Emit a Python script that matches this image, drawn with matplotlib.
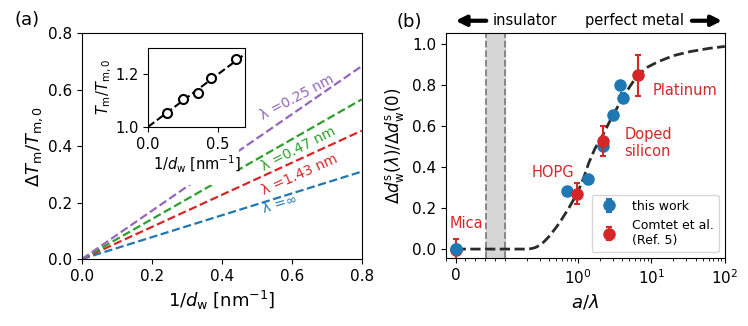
import numpy as np
import matplotlib.pyplot as plt
from matplotlib.patches import Rectangle
from matplotlib.ticker import NullFormatter

# ---------------- data: panel (a) ----------------
lam_labels = [r"λ =∞", r"λ =1.43 nm", r"λ =0.47 nm", r"λ =0.25 nm"]
lam_colors = ["tab:blue", "tab:red", "tab:green", "tab:purple"]
inv_d_line = [0.0, 0.8]
dT_end = [0.31, 0.455, 0.566, 0.684]   # dT/T at 1/d = 0.8
lab_x = [0.567, 0.622, 0.62, 0.615]
lab_y = [0.196, 0.298, 0.392, 0.575]
lab_rot = [16, 24, 27, 28]

# inset
inset_x = [0.136, 0.250, 0.360, 0.455, 0.631]
inset_y = [1.054, 1.104, 1.127, 1.184, 1.259]
inset_fit_x = [0.0, 0.7]
inset_fit_y = [1.0, 1.278]

# ---------------- data: panel (b) ----------------
blue_x = [0.0, 0.70, 1.38, 2.2, 3.0, 3.7, 4.1]
blue_y = [0.0, 0.285, 0.34, 0.505, 0.655, 0.80, 0.74]
blue_err = [0.02] * 7
red_x = [0.0, 0.98, 2.2, 6.5]
red_y = [-0.005, 0.27, 0.528, 0.85]
red_err = [0.055, 0.052, 0.075, 0.10]
red_names = ["Mica", "HOPG", "Doped\nsilicon", "Platinum"]

curve_x = [0, 0.1, 0.2, 0.23, 0.26, 0.3, 0.35, 0.4, 0.45, 0.52, 0.6, 0.75,
           0.9, 1.0, 1.2, 1.4, 1.7, 2.2, 3.0, 4.1, 5.0, 6.5, 9, 12.3, 20,
           34, 60, 100]
curve_y = [0, 0, 0, 0.002, 0.007, 0.018, 0.038, 0.06, 0.083, 0.112, 0.145,
           0.2, 0.25, 0.28, 0.35, 0.42, 0.49, 0.56, 0.655, 0.74, 0.79, 0.85,
           0.89, 0.915, 0.945, 0.965, 0.98, 0.99]
band = [0.062, 0.1]

fig = plt.figure(figsize=(7.48, 3.26), dpi=100)

# ---------------- panel (a) ----------------
ax = fig.add_axes([0.1096, 0.2055, 0.374, 0.692])
for i in range(4):
    ax.plot(inv_d_line, [0, dT_end[i]], "--", color=lam_colors[i], lw=1.6)
    ax.text(lab_x[i], lab_y[i], lam_labels[i], color=lam_colors[i],
            rotation=lab_rot[i], fontsize=10, ha="center", va="center")
ax.add_patch(Rectangle((0.02, 0.328), 0.541, 0.66, transform=ax.transAxes,
                       facecolor="white", edgecolor="none", zorder=2.5))
ax.set_xlim(0, 0.8)
ax.set_ylim(0, 0.8)
ax.set_xticks([0, 0.2, 0.4, 0.6, 0.8])
ax.set_yticks([0, 0.2, 0.4, 0.6, 0.8])
ax.tick_params(labelsize=11)
ax.set_xlabel(r"$1/d_\mathrm{w}\;[\mathrm{nm}^{-1}]$", fontsize=13)
ax.set_ylabel(r"$\Delta T_\mathrm{m}/T_\mathrm{m,0}$", fontsize=13, labelpad=2)

ins = fig.add_axes([0.198, 0.611, 0.130, 0.242])
ins.plot(inset_fit_x, inset_fit_y, "--", color="k", lw=1.5)
ins.plot(inset_x, inset_y, "o", mfc="white", mec="k", mew=1.5, ms=6.5)
ins.set_xlim(0, 0.7)
ins.set_ylim(1.0, 1.3)
ins.set_xticks([0.0, 0.5])
ins.set_yticks([1.0, 1.2])
ins.tick_params(labelsize=10.5)
ins.set_xlabel(r"$1/d_\mathrm{w}\;[\mathrm{nm}^{-1}]$", fontsize=10.5, labelpad=2)
ins.set_ylabel(r"$T_\mathrm{m}/T_\mathrm{m,0}$", fontsize=10.5, labelpad=1)

# ---------------- panel (b) ----------------
bx = fig.add_axes([0.596, 0.2077, 0.373, 0.692])
bx.set_xscale("symlog", linthresh=0.1, linscale=0.6)
bx.axvspan(band[0], band[1], color="#d6d6d6", zorder=0)
for b in band:
    bx.axvline(b, color="0.5", ls="--", lw=1.3, zorder=0.5)
bx.plot(curve_x, curve_y, "--", color="#2b2b2b", lw=2, zorder=1)
bx.errorbar(blue_x, blue_y, yerr=blue_err, fmt="o", color="tab:blue", ms=8,
            capsize=2.5, elinewidth=1.5, capthick=1.5, zorder=3, label="this work")
bx.errorbar(red_x, red_y, yerr=red_err, fmt="o", color="tab:red", ms=8,
            capsize=2.5, elinewidth=1.5, capthick=1.5, zorder=4,
            label="Comtet et al.\n(Ref. 5)")
bx.plot(blue_x[:1], blue_y[:1], "o", color="tab:blue", ms=8, zorder=5)

name_pos = [(0.022, 0.126, "center"), (0.457, 0.373, "center"),
            (4.3, 0.518, "left"), (10.5, 0.777, "left")]
for name, (tx, ty, ha) in zip(red_names, name_pos):
    bx.text(tx, ty, name, color="tab:red", fontsize=10.5, ha=ha, va="center")

bx.set_xlim(-0.02, 100)
bx.set_ylim(-0.045, 1.057)
bx.set_xticks([0, 1, 10, 100])
bx.set_xticklabels(["0", r"$10^0$", r"$10^1$", r"$10^2$"])
minor = [-0.02, 0.02, 0.04, 0.06, 0.08, 0.1]
for dec in [0.1, 1, 10]:
    minor += [k * dec for k in range(2, 10)]
bx.set_xticks(minor, minor=True)
bx.xaxis.set_minor_formatter(NullFormatter())
bx.set_yticks([0, 0.2, 0.4, 0.6, 0.8, 1.0])
bx.tick_params(labelsize=11)
bx.set_xlabel(r"$a/\lambda$", fontsize=13)
bx.set_ylabel(r"$\Delta d_\mathrm{w}^\mathrm{s}(\lambda)/\Delta d_\mathrm{w}^\mathrm{s}(0)$",
              fontsize=12)
bx.legend(loc="lower right", fontsize=9)

arrow = dict(arrowstyle="-|>", color="k", lw=3, mutation_scale=15)
bx.annotate("", xy=(0.025, 1.053), xytext=(0.155, 1.053),
            xycoords="axes fraction", arrowprops=arrow, annotation_clip=False)
bx.annotate("", xy=(1.0, 1.053), xytext=(0.872, 1.053),
            xycoords="axes fraction", arrowprops=arrow, annotation_clip=False)
bx.text(0.284, 1.053, "insulator", transform=bx.transAxes, fontsize=10.5,
        ha="center", va="center")
bx.text(0.675, 1.053, "perfect metal", transform=bx.transAxes, fontsize=10.5,
        ha="center", va="center")

fig.text(0.036, 0.939, "(a)", fontsize=13, ha="center", va="center")
fig.text(0.547, 0.933, "(b)", fontsize=13, ha="center", va="center")

fig.savefig("out.png", dpi=100)
